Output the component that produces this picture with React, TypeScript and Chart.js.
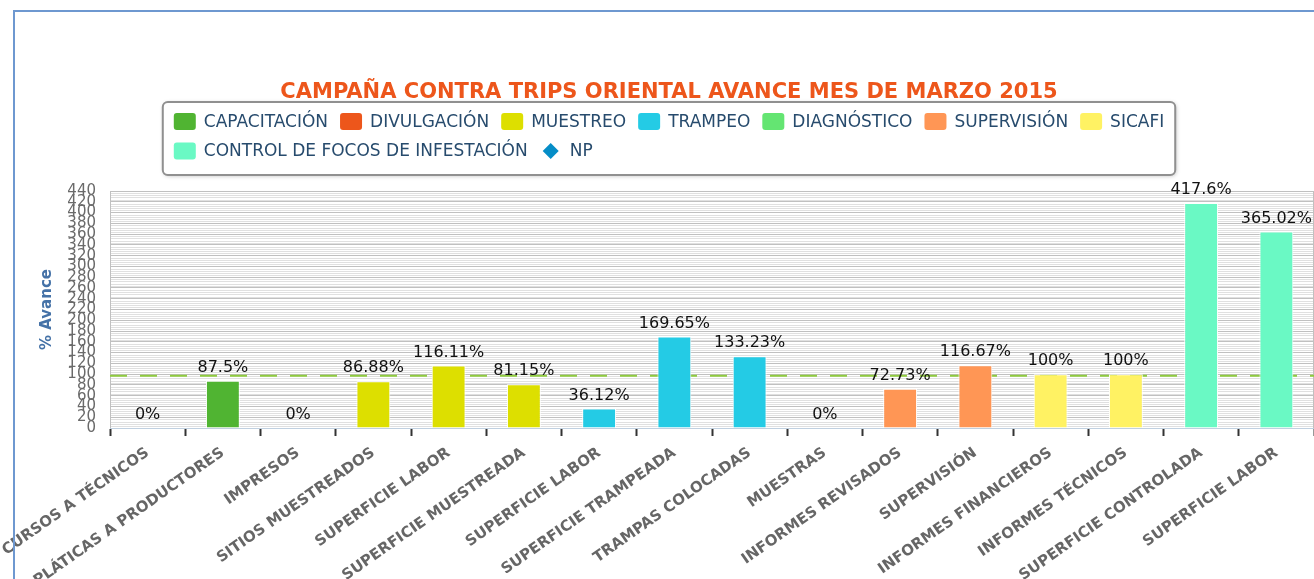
import React, { useEffect, useRef } from 'react';
import { Chart, registerables } from 'chart.js';

Chart.register(...registerables);

// ---------- Data ----------
const TITLE = 'CAMPAÑA CONTRA TRIPS ORIENTAL AVANCE MES DE MARZO 2015';
const Y_TITLE = '% Avance';

const categories = [
  'CURSOS A TÉCNICOS',
  'PLÁTICAS A PRODUCTORES',
  'IMPRESOS',
  'SITIOS MUESTREADOS',
  'SUPERFICIE LABOR',
  'SUPERFICIE MUESTREADA',
  'SUPERFICIE LABOR',
  'SUPERFICIE TRAMPEADA',
  'TRAMPAS COLOCADAS',
  'MUESTRAS',
  'INFORMES REVISADOS',
  'SUPERVISIÓN',
  'INFORMES FINANCIEROS',
  'INFORMES TÉCNICOS',
  'SUPERFICIE CONTROLADA',
  'SUPERFICIE LABOR',
];

const N = null;
const capacitacion = [0, 87.5, N, N, N, N, N, N, N, N, N, N, N, N, N, N];
const divulgacion = [N, N, 0, N, N, N, N, N, N, N, N, N, N, N, N, N];
const muestreo = [N, N, N, 86.88, 116.11, 81.15, N, N, N, N, N, N, N, N, N, N];
const trampeo = [N, N, N, N, N, N, 36.12, 169.65, 133.23, N, N, N, N, N, N, N];
const diagnostico = [N, N, N, N, N, N, N, N, N, 0, N, N, N, N, N, N];
const supervision = [N, N, N, N, N, N, N, N, N, N, 72.73, 116.67, N, N, N, N];
const sicafi = [N, N, N, N, N, N, N, N, N, N, N, N, 100, 100, N, N];
const controlFocos = [N, N, N, N, N, N, N, N, N, N, N, N, N, N, 417.6, 365.02];
const np = [N, N, N, N, N, N, N, N, N, N, N, N, N, N, N, N];

const seriesNames = [
  'CAPACITACIÓN',
  'DIVULGACIÓN',
  'MUESTREO',
  'TRAMPEO',
  'DIAGNÓSTICO',
  'SUPERVISIÓN',
  'SICAFI',
  'CONTROL DE FOCOS DE INFESTACIÓN',
  'NP',
];
const seriesData = [capacitacion, divulgacion, muestreo, trampeo, diagnostico, supervision, sicafi, controlFocos, np];
const seriesColors = ['#50B432', '#ED561B', '#DDDF00', '#24CBE5', '#64E572', '#FF9655', '#FFF263', '#6AF9C4', '#058DC7'];

const Y_MIN = 0;
const Y_MAX = 440;
const Y_STEP = 20;
const Y_MINOR_STEP = 4;
const META = 100;

// ---------- Layout / style constants ----------
const W = 1314;
const H = 579;
const FONT = '"DejaVu Sans", Verdana, sans-serif';
const CENTER_X = 669;

const decorPlugin = {
  id: 'decor',
  beforeDraw(chart: any) {
    const ctx = chart.ctx;
    ctx.save();
    ctx.fillStyle = '#ffffff';
    ctx.fillRect(0, 0, chart.width, chart.height);
    ctx.restore();
  },
  beforeDatasetsDraw(chart: any) {
    const ctx = chart.ctx;
    const { left, right, top, bottom } = chart.chartArea;
    const ys = chart.scales.y;
    ctx.save();
    // minor grid lines
    ctx.strokeStyle = '#E0E0E0';
    ctx.lineWidth = 1;
    for (let v = Y_MIN; v <= Y_MAX; v += Y_MINOR_STEP) {
      if (v % Y_STEP === 0) continue;
      const py = Math.round(ys.getPixelForValue(v)) + 0.5;
      ctx.beginPath();
      ctx.moveTo(left, py);
      ctx.lineTo(right, py);
      ctx.stroke();
    }
    // plot border (top, left, right)
    ctx.strokeStyle = '#C0C0C0';
    ctx.beginPath();
    ctx.moveTo(Math.round(left) + 0.5, bottom);
    ctx.lineTo(Math.round(left) + 0.5, Math.round(top) + 0.5);
    ctx.lineTo(right - 0.5, Math.round(top) + 0.5);
    ctx.lineTo(right - 0.5, bottom);
    ctx.stroke();
    // target dashed line
    const my = ys.getPixelForValue(META) + 1.5;
    ctx.strokeStyle = '#8FCB3E';
    ctx.lineWidth = 2;
    ctx.setLineDash([17, 13]);
    ctx.beginPath();
    ctx.moveTo(left, my);
    ctx.lineTo(right, my);
    ctx.stroke();
    ctx.restore();
  },
  afterDatasetsDraw(chart: any) {
    const ctx = chart.ctx;
    ctx.save();
    ctx.font = '16px ' + FONT;
    ctx.fillStyle = '#111111';
    ctx.textAlign = 'center';
    ctx.textBaseline = 'bottom';
    chart.data.datasets.forEach((ds: any, di: number) => {
      if (ds.type === 'line') return;
      const meta = chart.getDatasetMeta(di);
      meta.data.forEach((el: any, i: number) => {
        const v = ds.data[i];
        if (v === null || v === undefined) return;
        ctx.fillText(String(v) + '%', el.x, el.y - 5);
      });
    });
    ctx.restore();
  },
  afterDraw(chart: any) {
    const ctx = chart.ctx;
    ctx.save();
    // Title
    ctx.font = 'bold 21px ' + FONT;
    ctx.fillStyle = '#ED561B';
    ctx.textAlign = 'center';
    ctx.textBaseline = 'middle';
    ctx.fillText(TITLE, CENTER_X, 93);

    // Legend
    ctx.font = '17px ' + FONT;
    const symW = 22;
    const symGap = 8;
    const itemGap = 12;
    const maxRow = 1100;
    const items = chart.data.datasets.map((ds: any) => ({
      label: ds.label,
      color: ds.backgroundColor,
      diamond: ds.type === 'line',
      w: symW + symGap + ctx.measureText(ds.label).width,
    }));
    const rows: any[][] = [[]];
    let rw = 0;
    items.forEach((it: any) => {
      const add = (rows[rows.length - 1].length ? itemGap : 0) + it.w;
      if (rw + add > maxRow && rows[rows.length - 1].length) {
        rows.push([it]);
        rw = it.w;
      } else {
        rows[rows.length - 1].push(it);
        rw += add;
      }
    });
    const rowWidths = rows.map((r) => r.reduce((s, it, i) => s + it.w + (i ? itemGap : 0), 0));
    const boxPad = 11;
    const boxW = Math.max(...rowWidths) + boxPad * 2;
    const boxX = CENTER_X - boxW / 2;
    const boxY = 102;
    const rowH = 29.5;
    const boxH = 73;
    // shadow + box
    ctx.save();
    ctx.shadowColor = 'rgba(0,0,0,0.25)';
    ctx.shadowBlur = 4;
    ctx.shadowOffsetX = 1;
    ctx.shadowOffsetY = 1;
    ctx.fillStyle = '#ffffff';
    ctx.beginPath();
    ctx.roundRect(boxX, boxY, boxW, boxH, 5);
    ctx.fill();
    ctx.restore();
    ctx.strokeStyle = '#909090';
    ctx.lineWidth = 2;
    ctx.beginPath();
    ctx.roundRect(boxX, boxY, boxW, boxH, 5);
    ctx.stroke();

    ctx.textAlign = 'left';
    ctx.textBaseline = 'middle';
    rows.forEach((row, ri) => {
      let x = boxX + boxPad;
      const cy = boxY + 19.5 + ri * rowH;
      row.forEach((it: any) => {
        ctx.fillStyle = it.color;
        if (it.diamond) {
          const cx = x + symW / 2;
          const r = 8;
          ctx.beginPath();
          ctx.moveTo(cx, cy - r);
          ctx.lineTo(cx + r, cy);
          ctx.lineTo(cx, cy + r);
          ctx.lineTo(cx - r, cy);
          ctx.closePath();
          ctx.fill();
        } else {
          ctx.beginPath();
          ctx.roundRect(x, cy - 8.5, symW, 17, 3);
          ctx.fill();
        }
        ctx.fillStyle = '#274B6D';
        ctx.fillText(it.label, x + symW + symGap, cy + 1);
        x += it.w + itemGap;
      });
    });

    // outer container border
    ctx.fillStyle = '#6E98D0';
    ctx.fillRect(13, 10, 2, chart.height - 10);
    ctx.fillRect(13, 10, chart.width - 13, 2);
    ctx.restore();
  },
};

export default function App() {
  const ref = useRef<HTMLCanvasElement | null>(null);

  useEffect(() => {
    document.body.style.margin = '0';
    Chart.defaults.font.family = FONT;
    const datasets: any[] = seriesNames.map((name, i) => {
      if (name === 'NP') {
        return {
          type: 'line',
          label: name,
          data: seriesData[i],
          backgroundColor: seriesColors[i],
          borderColor: seriesColors[i],
          pointStyle: 'rectRot',
          pointRadius: 0,
          borderWidth: 0,
          showLine: false,
        };
      }
      return {
        type: 'bar',
        label: name,
        data: seriesData[i],
        backgroundColor: seriesColors[i],
        borderColor: '#ffffff',
        borderWidth: 1,
        grouped: false,
        barPercentage: 0.45,
        categoryPercentage: 1,
      };
    });

    const chart = new Chart(ref.current as HTMLCanvasElement, {
      type: 'bar',
      data: { labels: categories, datasets },
      options: {
        responsive: false,
        animation: false,
        layout: { autoPadding: false, padding: { top: 191, left: 34, right: 0, bottom: 0 } },
        plugins: {
          legend: { display: false },
          title: { display: false },
          tooltip: { enabled: false },
        },
        scales: {
          x: {
            offset: true,
            ticks: {
              autoSkip: false,
              minRotation: 35,
              maxRotation: 35,
              padding: 8,
              color: '#666666',
              font: { size: 15, weight: 'bold', family: FONT },
            },
            grid: {
              display: true,
              offset: true,
              drawOnChartArea: false,
              drawTicks: true,
              tickLength: 8,
              tickColor: '#333333',
              tickWidth: 2,
            },
            border: { display: true, color: '#C0D0E0', width: 1 },
            afterFit: (s: any) => {
              s.height = H - 428;
              s.paddingLeft = 0;
              s.paddingRight = 0;
            },
          },
          y: {
            min: Y_MIN,
            max: Y_MAX,
            ticks: {
              stepSize: Y_STEP,
              autoSkip: false,
              padding: 14,
              color: '#6A6A6A',
              font: { size: 15, family: FONT },
            },
            grid: { color: '#C0C0C0', lineWidth: 1, drawTicks: false },
            border: { display: false },
            title: {
              display: true,
              text: Y_TITLE,
              color: '#4572A7',
              font: { size: 15, weight: 'bold', family: FONT },
              padding: { top: 4, bottom: 4 },
            },
            afterFit: (s: any) => {
              s.width = 110 - 34;
            },
          },
        },
      } as any,
      plugins: [decorPlugin],
    });
    return () => chart.destroy();
  }, []);

  return (
    <canvas
      ref={ref}
      width={W}
      height={H}
      style={{ position: 'absolute', left: 0, top: 0, width: W + 'px', height: H + 'px', display: 'block' }}
    />
  );
}
